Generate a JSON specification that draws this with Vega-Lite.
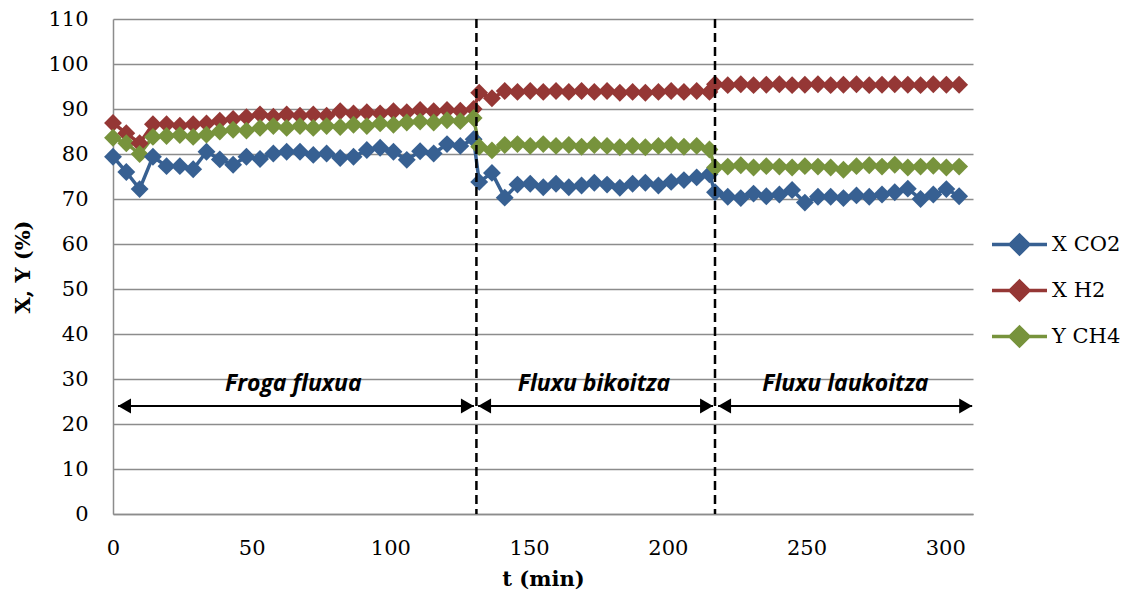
{
  "$schema": "https://vega.github.io/schema/vega-lite/v6.json",
  "width": 860,
  "height": 495,
  "autosize": {"type": "none"},
  "padding": {"left": 113, "top": 19, "right": 151, "bottom": 84},
  "background": "white",
  "config": {"view": {"stroke": null}, "font": "DejaVu Serif"},
  "datasets": {
    "series": [
      {"t":0,"X CO2":79.4,"X H2":86.9,"Y CH4":83.6},
      {"t":4.8,"X CO2":76.0,"X H2":84.6,"Y CH4":82.4},
      {"t":9.6,"X CO2":72.2,"X H2":82.4,"Y CH4":80.0},
      {"t":14.4,"X CO2":79.4,"X H2":86.6,"Y CH4":83.8},
      {"t":19.3,"X CO2":77.3,"X H2":86.6,"Y CH4":84.0},
      {"t":24.1,"X CO2":77.3,"X H2":86.3,"Y CH4":84.2},
      {"t":28.9,"X CO2":76.6,"X H2":86.6,"Y CH4":83.8},
      {"t":33.7,"X CO2":80.5,"X H2":86.8,"Y CH4":84.3},
      {"t":38.5,"X CO2":78.8,"X H2":87.4,"Y CH4":85.0},
      {"t":43.3,"X CO2":77.6,"X H2":87.8,"Y CH4":85.4},
      {"t":48.1,"X CO2":79.4,"X H2":88.2,"Y CH4":85.2},
      {"t":53.0,"X CO2":78.9,"X H2":88.8,"Y CH4":85.8},
      {"t":57.8,"X CO2":80.1,"X H2":88.3,"Y CH4":86.2},
      {"t":62.6,"X CO2":80.5,"X H2":88.8,"Y CH4":85.8},
      {"t":67.4,"X CO2":80.5,"X H2":88.5,"Y CH4":86.2},
      {"t":72.2,"X CO2":79.8,"X H2":88.8,"Y CH4":85.8},
      {"t":77.0,"X CO2":80.1,"X H2":88.5,"Y CH4":86.2},
      {"t":81.9,"X CO2":79.1,"X H2":89.5,"Y CH4":86.0},
      {"t":86.7,"X CO2":79.4,"X H2":89.0,"Y CH4":86.5},
      {"t":91.5,"X CO2":80.9,"X H2":89.3,"Y CH4":86.2},
      {"t":96.3,"X CO2":81.4,"X H2":89.0,"Y CH4":86.8},
      {"t":101.1,"X CO2":80.5,"X H2":89.5,"Y CH4":86.5},
      {"t":105.9,"X CO2":78.7,"X H2":89.3,"Y CH4":87.0},
      {"t":110.7,"X CO2":80.6,"X H2":89.8,"Y CH4":87.2},
      {"t":115.6,"X CO2":80.1,"X H2":89.5,"Y CH4":87.0},
      {"t":120.4,"X CO2":82.2,"X H2":89.8,"Y CH4":87.5},
      {"t":125.2,"X CO2":81.8,"X H2":89.6,"Y CH4":87.3},
      {"t":130.0,"X CO2":83.3,"X H2":90.0,"Y CH4":88.0},
      {"t":132.0,"X CO2":73.8,"X H2":93.6,"Y CH4":81.6},
      {"t":136.6,"X CO2":75.8,"X H2":92.4,"Y CH4":80.8},
      {"t":141.2,"X CO2":70.3,"X H2":94.0,"Y CH4":82.0},
      {"t":145.8,"X CO2":73.2,"X H2":93.8,"Y CH4":82.2},
      {"t":150.4,"X CO2":73.4,"X H2":94.0,"Y CH4":81.8},
      {"t":155.1,"X CO2":72.6,"X H2":93.8,"Y CH4":82.2},
      {"t":159.7,"X CO2":73.4,"X H2":94.0,"Y CH4":81.8},
      {"t":164.3,"X CO2":72.6,"X H2":93.8,"Y CH4":82.0},
      {"t":168.9,"X CO2":73.0,"X H2":94.0,"Y CH4":81.6},
      {"t":173.5,"X CO2":73.6,"X H2":93.8,"Y CH4":82.0},
      {"t":178.1,"X CO2":73.2,"X H2":94.0,"Y CH4":81.8},
      {"t":182.7,"X CO2":72.5,"X H2":93.6,"Y CH4":81.5},
      {"t":187.3,"X CO2":73.4,"X H2":93.8,"Y CH4":81.8},
      {"t":191.9,"X CO2":73.6,"X H2":93.6,"Y CH4":81.5},
      {"t":196.6,"X CO2":73.0,"X H2":93.8,"Y CH4":81.8},
      {"t":201.2,"X CO2":73.8,"X H2":94.0,"Y CH4":82.0},
      {"t":205.8,"X CO2":74.2,"X H2":93.8,"Y CH4":81.6},
      {"t":210.4,"X CO2":74.8,"X H2":94.0,"Y CH4":81.8},
      {"t":215.0,"X CO2":75.5,"X H2":93.8,"Y CH4":81.0},
      {"t":217.0,"X CO2":71.5,"X H2":95.5,"Y CH4":77.0},
      {"t":221.6,"X CO2":70.5,"X H2":95.3,"Y CH4":77.2},
      {"t":226.3,"X CO2":70.2,"X H2":95.5,"Y CH4":77.5},
      {"t":230.9,"X CO2":71.2,"X H2":95.3,"Y CH4":77.0},
      {"t":235.5,"X CO2":70.6,"X H2":95.4,"Y CH4":77.3},
      {"t":240.2,"X CO2":71.0,"X H2":95.5,"Y CH4":77.2},
      {"t":244.8,"X CO2":72.0,"X H2":95.3,"Y CH4":77.0},
      {"t":249.4,"X CO2":69.2,"X H2":95.4,"Y CH4":77.3},
      {"t":254.1,"X CO2":70.5,"X H2":95.5,"Y CH4":77.2},
      {"t":258.7,"X CO2":70.5,"X H2":95.3,"Y CH4":77.0},
      {"t":263.3,"X CO2":70.2,"X H2":95.4,"Y CH4":76.5},
      {"t":268.0,"X CO2":70.8,"X H2":95.5,"Y CH4":77.3},
      {"t":272.6,"X CO2":70.5,"X H2":95.3,"Y CH4":77.5},
      {"t":277.2,"X CO2":71.0,"X H2":95.4,"Y CH4":77.2},
      {"t":281.8,"X CO2":71.5,"X H2":95.5,"Y CH4":77.6},
      {"t":286.5,"X CO2":72.3,"X H2":95.4,"Y CH4":77.0},
      {"t":291.1,"X CO2":70.0,"X H2":95.3,"Y CH4":77.2},
      {"t":295.7,"X CO2":71.0,"X H2":95.5,"Y CH4":77.4},
      {"t":300.4,"X CO2":72.2,"X H2":95.4,"Y CH4":77.0},
      {"t":305.0,"X CO2":70.6,"X H2":95.4,"Y CH4":77.2}
    ],
    "bounds": [{"t": 131}, {"t": 217}],
    "arrows": [
      {"x0": 1.8, "x1": 130.1},
      {"x0": 131.6, "x1": 216.3},
      {"x0": 218.1, "x1": 309.7}
    ],
    "labels": [
      {"t": 65, "label": "Froga fluxua"},
      {"t": 173.4, "label": "Fluxu bikoitza"},
      {"t": 264, "label": "Fluxu laukoitza"}
    ]
  },
  "layer": [
    {
      "data": {"name": "series"},
      "transform": [{"fold": ["X CO2", "X H2", "Y CH4"], "as": ["serie", "val"]}],
      "mark": {"type": "line", "strokeWidth": 3.5, "point": {"shape": "diamond", "size": 320, "filled": true, "opacity": 1}},
      "encoding": {
        "x": {
          "field": "t", "type": "quantitative",
          "scale": {"domain": [0, 310], "nice": false, "zero": false},
          "axis": {
            "values": [0, 50, 100, 150, 200, 250, 300],
            "title": "t (min)", "grid": false, "ticks": false, "labelFlush": false,
            "domain": true, "domainColor": "#8c8c8c", "domainWidth": 1.5,
            "labelFont": "DejaVu Serif", "labelFontSize": 21, "labelColor": "black", "labelPadding": 23,
            "titleFont": "DejaVu Serif", "titleFontSize": 21, "titleFontWeight": "bold", "titleColor": "black", "titlePadding": 10
          }
        },
        "y": {
          "field": "val", "type": "quantitative",
          "scale": {"domain": [0, 110], "nice": false},
          "axis": {
            "values": [0, 10, 20, 30, 40, 50, 60, 70, 80, 90, 100, 110],
            "title": "X, Y (%)", "grid": true, "gridColor": "#8c8c8c", "gridWidth": 1.5,
            "ticks": false, "domain": true, "domainColor": "#8c8c8c", "domainWidth": 1.5,
            "labelFont": "DejaVu Serif", "labelFontSize": 21, "labelColor": "black", "labelPadding": 25,
            "titleFont": "DejaVu Serif", "titleFontSize": 21, "titleFontWeight": "bold", "titleColor": "black", "titlePadding": 14
          }
        },
        "color": {
          "field": "serie", "type": "nominal",
          "scale": {"domain": ["X CO2", "X H2", "Y CH4"], "range": ["#376092", "#953735", "#77933C"]},
          "legend": {
            "title": null, "orient": "none", "legendX": 877, "legendY": 196,
            "symbolType": "M-1,0L1,0M0,-0.34L0.34,0L0,0.34L-0.34,0Z",
            "symbolSize": 3025, "symbolStrokeWidth": 3.5,
            "labelFont": "DejaVu Serif", "labelFontSize": 21, "labelColor": "black", "labelOffset": 3,
            "rowPadding": 0,
            "encode": {"symbols": {"update": {"fill": {"scale": "color", "field": "value"}, "stroke": {"scale": "color", "field": "value"}, "opacity": {"value": 1}}}}
          }
        }
      }
    },
    {
      "data": {"name": "bounds"},
      "mark": {"type": "rule", "color": "black", "strokeWidth": 2.5, "strokeDash": [9, 5]},
      "encoding": {"x": {"field": "t", "type": "quantitative"}}
    },
    {
      "data": {"name": "arrows"},
      "mark": {"type": "rule", "color": "black", "strokeWidth": 2},
      "encoding": {
        "x": {"field": "x0", "type": "quantitative"},
        "x2": {"field": "x1"},
        "y": {"datum": 24, "type": "quantitative"}
      }
    },
    {
      "data": {"name": "arrows"},
      "mark": {"type": "point", "shape": "triangle-left", "size": 225, "filled": true, "color": "black", "opacity": 1, "xOffset": 6.5},
      "encoding": {
        "x": {"field": "x0", "type": "quantitative"},
        "y": {"datum": 24, "type": "quantitative"}
      }
    },
    {
      "data": {"name": "arrows"},
      "mark": {"type": "point", "shape": "triangle-right", "size": 225, "filled": true, "color": "black", "opacity": 1, "xOffset": -6.5},
      "encoding": {
        "x": {"field": "x1", "type": "quantitative"},
        "y": {"datum": 24, "type": "quantitative"}
      }
    },
    {
      "data": {"name": "labels"},
      "mark": {"type": "text", "font": "Open Sans", "fontSize": 23, "fontWeight": "bold", "fontStyle": "italic", "color": "black", "baseline": "middle", "align": "center"},
      "encoding": {
        "x": {"field": "t", "type": "quantitative"},
        "y": {"datum": 28.9, "type": "quantitative"},
        "text": {"field": "label"}
      }
    }
  ]
}
